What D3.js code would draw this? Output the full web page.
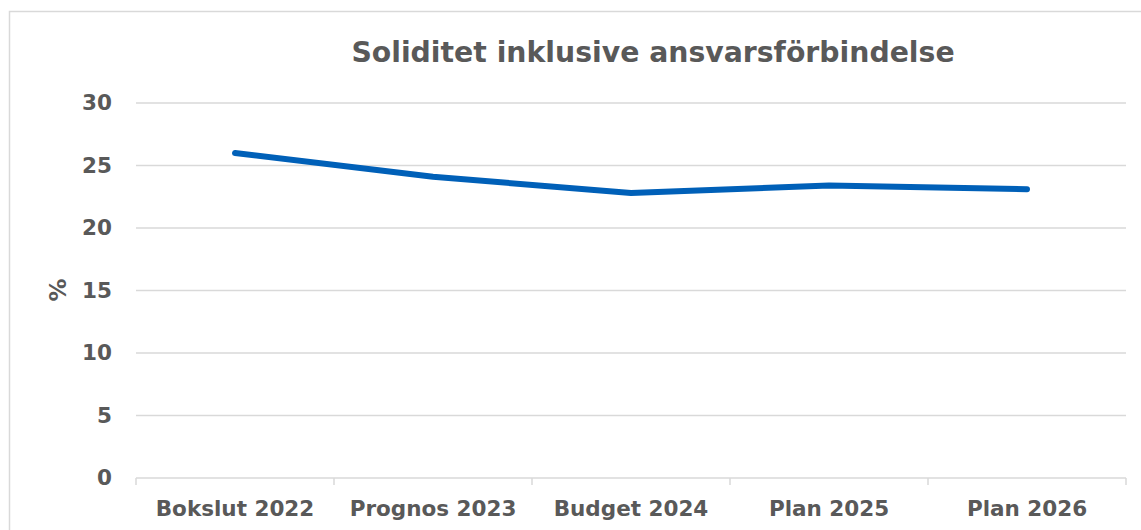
<!DOCTYPE html>
<html>
<head>
<meta charset="utf-8">
<script src="https://cdn.jsdelivr.net/npm/d3@7"></script>
<style>
  body { margin: 0; background: #fff; }
  svg text { font-family: "DejaVu Sans", Verdana, sans-serif; font-weight: bold; fill: #595959; }
</style>
</head>
<body>
<div id="root"></div>
<script>
const categories = ['Bokslut 2022', 'Prognos 2023', 'Budget 2024', 'Plan 2025', 'Plan 2026'];
const values = [26.0, 24.1, 22.8, 23.4, 23.1];
const yTicks = [0, 5, 10, 15, 20, 25, 30];
const chartTitle = 'Soliditet inklusive ansvarsförbindelse';
const yLabel = '%';

const width = 1141, height = 530;
const plot = {left: 136, right: 1126, top: 103, bottom: 478};

const svg = d3.select('#root').append('svg')
  .attr('width', width)
  .attr('height', height);

// outer chart border (runs off the right / bottom edge)
svg.append('rect')
  .attr('x', 9.5).attr('y', 11.5)
  .attr('width', 1160).attr('height', 540)
  .attr('fill', 'none')
  .attr('stroke', '#d9d9d9')
  .attr('stroke-width', 1.5);

const x = d3.scaleBand().domain(categories).range([plot.left, plot.right]);
const y = d3.scaleLinear().domain([0, 30]).range([plot.bottom, plot.top]);

// gridlines
svg.append('g')
  .selectAll('line')
  .data(yTicks.filter(d => d > 0)).enter()
  .append('line')
  .attr('x1', plot.left).attr('x2', plot.right)
  .attr('y1', d => y(d)).attr('y2', d => y(d))
  .attr('stroke', '#d9d9d9')
  .attr('stroke-width', 1.5);

// x axis
const xAxis = svg.append('g')
  .attr('transform', `translate(0,${plot.bottom})`)
  .call(d3.axisBottom(x).tickSize(0).tickPadding(23));
xAxis.select('.domain').remove();
xAxis.selectAll('text').style('font-size', '21.5px');
xAxis.append('line')
  .attr('x1', plot.left).attr('x2', plot.right)
  .attr('stroke', '#d9d9d9').attr('stroke-width', 1.5);
xAxis.selectAll('.sep')
  .data(d3.range(categories.length + 1)).enter()
  .append('line')
  .attr('class', 'sep')
  .attr('x1', i => plot.left + i * x.step())
  .attr('x2', i => plot.left + i * x.step())
  .attr('y1', 0).attr('y2', 7)
  .attr('stroke', '#d9d9d9').attr('stroke-width', 1.5);

// y axis
const yAxis = svg.append('g')
  .attr('transform', `translate(${plot.left},0)`)
  .call(d3.axisLeft(y).tickValues(yTicks).tickSize(0).tickPadding(24));
yAxis.select('.domain').remove();
yAxis.selectAll('text').style('font-size', '21.5px');

svg.append('text')
  .text(yLabel)
  .attr('transform', 'translate(58,290) rotate(-90)')
  .attr('text-anchor', 'middle')
  .attr('dy', '0.35em')
  .style('font-size', '23px');

svg.append('text')
  .text(chartTitle)
  .attr('x', (plot.left + plot.right) / 2 + 22)
  .attr('y', 62)
  .attr('text-anchor', 'middle')
  .style('font-size', '28.3px');

const line = d3.line()
  .x((d, i) => x(categories[i]) + x.bandwidth() / 2)
  .y(d => y(d));

svg.append('path')
  .datum(values)
  .attr('d', line)
  .attr('fill', 'none')
  .attr('stroke', '#0060b8')
  .attr('stroke-width', 6)
  .attr('stroke-linecap', 'round')
  .attr('stroke-linejoin', 'round');
</script>
</body>
</html>
